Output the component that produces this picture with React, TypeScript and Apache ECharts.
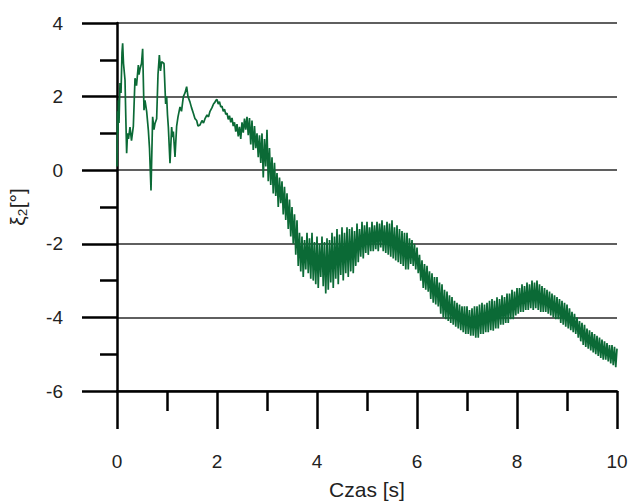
import React, { useEffect, useRef } from "react";
import * as echarts from "echarts";

// Time axis ticks (s) and angle ticks (deg)
const X_MIN = 0;
const X_MAX = 10;
const Y_MIN = -6;
const Y_MAX = 4;
const X_TICK = 2;
const Y_TICK = 2;

// 0 – 2 s: irregular start, read as [t, ξ2] pairs
const EARLY: [number, number][] = [
  [0, 0.1], [0.01, 1.6], [0.02, 1.0], [0.027, 1.9], [0.04, 1.28], [0.06, 2.37],
  [0.08, 2.1], [0.1, 3.2], [0.113, 3.45], [0.13, 2.9], [0.16, 2.45], [0.175, 1.5],
  [0.193, 0.46], [0.21, 1.0], [0.23, 0.85], [0.26, 1.17], [0.29, 0.8], [0.327, 1.2],
  [0.36, 2.5], [0.39, 2.3], [0.427, 2.86], [0.44, 2.6], [0.46, 2.75], [0.49, 2.9],
  [0.513, 3.3], [0.54, 1.63], [0.56, 1.9], [0.593, 1.6], [0.627, 1.09], [0.65, 0.6],
  [0.68, -0.55], [0.713, 1.45], [0.74, 1.1], [0.76, 1.27], [0.793, 1.4], [0.82, 2.6],
  [0.847, 3.13], [0.87, 2.7], [0.893, 2.95], [0.94, 2.9], [0.973, 1.8], [0.993, 2.0],
  [1.01, 1.5], [1.027, 1.17], [1.06, 0.19], [1.093, 1.17], [1.11, 0.9], [1.127, 1.05],
  [1.16, 0.36], [1.193, 1.2], [1.22, 1.45], [1.26, 1.72], [1.29, 1.6], [1.327, 2.0],
  [1.36, 2.1], [1.393, 2.27], [1.42, 2.0], [1.46, 1.85], [1.49, 1.7], [1.527, 1.55],
  [1.56, 1.4], [1.593, 1.35], [1.62, 1.2], [1.66, 1.23], [1.7, 1.35], [1.73, 1.28],
  [1.76, 1.4], [1.8, 1.5], [1.83, 1.45], [1.86, 1.6], [1.9, 1.7], [1.93, 1.8],
  [1.96, 1.85], [1.98, 1.9],
];

// 2 – 10 s: sampled every 0.025 s
const SAMPLE_START = 2;
const SAMPLE_STEP = 0.025;

const SEG_2_4 = [
  1.92, 1.80, 1.86, 1.72, 1.74, 1.60, 1.66, 1.52, 1.55, 1.38, 1.48, 1.30,
  1.42, 1.20, 1.30, 1.05, 1.25, 0.92, 1.18, 0.85, 1.30, 1.02, 1.40, 1.10,
  1.45, 0.95, 1.42, 0.70, 1.35, 0.55, 1.20, 0.60, 1.00, 0.35, 0.95, 0.20,
  1.00, -0.20, 0.85, 0.10, 1.10, -0.30, 0.60, -0.40, 0.35, -0.63, 0.20, -0.70,
  -0.08, -1.00, -0.20, -0.90, -0.30, -1.20, -0.45, -1.35, -0.63, -1.60, -0.80, -1.80,
  -1.00, -2.00, -1.20, -2.30, -1.36, -2.60, -1.70, -2.75, -1.80, -2.90, -1.90, -2.70,
  -1.70, -2.80, -1.85, -2.95, -1.70, -3.00, -1.95, -3.10,
];

const SEG_4_6 = [
  -1.80, -3.20, -2.00, -2.90, -1.80, -3.15, -1.95, -3.35, -1.85, -3.25, -1.90, -3.05,
  -1.70, -3.20, -1.80, -2.95, -1.60, -3.10, -1.75, -2.85, -1.55, -3.00, -1.70, -2.80,
  -1.55, -2.90, -1.60, -2.75, -1.55, -2.80, -1.65, -2.60, -1.45, -2.50, -1.60, -2.35,
  -1.40, -2.40, -1.50, -2.25, -1.40, -2.30, -1.55, -2.20, -1.40, -2.20, -1.50, -2.15,
  -1.40, -2.20, -1.45, -2.10, -1.36, -2.20, -1.50, -2.25, -1.40, -2.30, -1.45, -2.35,
  -1.36, -2.40, -1.55, -2.45, -1.50, -2.50, -1.60, -2.55, -1.65, -2.60, -1.70, -2.70,
  -1.70, -2.70, -1.85, -2.55, -1.90, -2.60, -2.00, -2.70,
];

const SEG_6_8 = [
  -2.10, -2.80, -2.30, -3.00, -2.45, -3.20, -2.55, -3.25, -2.60, -3.30, -2.75, -3.50,
  -2.80, -3.60, -2.90, -3.65, -2.90, -3.70, -3.05, -3.90, -3.10, -4.00, -3.25, -4.05,
  -3.30, -4.10, -3.40, -4.15, -3.45, -4.20, -3.55, -4.25, -3.60, -4.30, -3.65, -4.35,
  -3.70, -4.40, -3.70, -4.45, -3.70, -4.45, -3.80, -4.50, -3.75, -4.50, -3.70, -4.55,
  -3.70, -4.55, -3.65, -4.45, -3.60, -4.45, -3.65, -4.40, -3.60, -4.40, -3.55, -4.35,
  -3.50, -4.36, -3.55, -4.30, -3.45, -4.30, -3.50, -4.20, -3.40, -4.20, -3.45, -4.15,
  -3.35, -4.15, -3.35, -4.05, -3.25, -4.05, -3.30, -3.95,
];

const SEG_8_10 = [
  -3.20, -3.90, -3.20, -3.85, -3.10, -3.85, -3.15, -3.80, -3.05, -3.80, -3.10, -3.75,
  -3.00, -3.80, -3.05, -3.75, -3.00, -3.80, -3.10, -3.85, -3.15, -3.85, -3.20, -3.85,
  -3.25, -3.90, -3.30, -3.95, -3.35, -4.00, -3.40, -4.05, -3.45, -4.05, -3.50, -4.15,
  -3.55, -4.20, -3.60, -4.25, -3.65, -4.30, -3.75, -4.35, -3.85, -4.40, -3.90, -4.45,
  -4.00, -4.55, -4.10, -4.65, -4.15, -4.75, -4.20, -4.80, -4.30, -4.85, -4.35, -4.90,
  -4.40, -4.95, -4.45, -5.00, -4.50, -5.05, -4.55, -5.10, -4.60, -5.15, -4.65, -5.15,
  -4.70, -5.20, -4.75, -5.25, -4.75, -5.30, -4.80, -5.35, -4.85,
];

const X_NAME = "Czas [s]";
const Y_NAME = "ξ₂[°]";

const FONT = "'Liberation Sans', Arial, 'DejaVu Sans', sans-serif";
const LINE_COLOR = "#0b6a36";

export default function App() {
  const ref = useRef<HTMLDivElement>(null);

  useEffect(() => {
    if (!ref.current) return;
    const chart = echarts.init(ref.current, null, { renderer: "svg" });

    const sampled = [...SEG_2_4, ...SEG_4_6, ...SEG_6_8, ...SEG_8_10].map(
      (v, i) => [SAMPLE_START + i * SAMPLE_STEP, v] as [number, number]
    );
    const data = [...EARLY, ...sampled];

    chart.setOption({
      animation: false,
      backgroundColor: "#ffffff",
      grid: {
        left: 117,
        right: 15,
        top: 23,
        bottom: 113,
        containLabel: false,
        outerBoundsMode: "none",
      },
      xAxis: {
        type: "value",
        min: X_MIN,
        max: X_MAX,
        interval: X_TICK,
        name: X_NAME,
        nameLocation: "middle",
        nameGap: 88,
        nameTextStyle: { fontSize: 21, color: "#222", fontFamily: FONT },
        axisLine: { show: true, onZero: false, lineStyle: { color: "#000", width: 2.5 } },
        axisTick: { show: true, length: 38, lineStyle: { color: "#000", width: 2.5 } },
        minorTick: { show: true, splitNumber: 2, length: 20, lineStyle: { color: "#000", width: 2.5 } },
        axisLabel: { margin: 61, fontSize: 19, color: "#222", fontFamily: FONT },
        splitLine: { show: false },
      },
      yAxis: {
        type: "value",
        min: Y_MIN,
        max: Y_MAX,
        interval: Y_TICK,
        name: Y_NAME,
        nameLocation: "middle",
        nameGap: 89,
        nameRotate: 90,
        nameTextStyle: { fontSize: 21, color: "#222", fontFamily: FONT },
        axisLine: { show: true, onZero: false, lineStyle: { color: "#000", width: 2.5 } },
        axisTick: { show: true, length: 35, lineStyle: { color: "#000", width: 2.5 } },
        minorTick: { show: true, splitNumber: 2, length: 17, lineStyle: { color: "#000", width: 2.5 } },
        axisLabel: { margin: 54, fontSize: 19, color: "#222", fontFamily: FONT },
        splitLine: { show: true, lineStyle: { color: "#2a2a2a", width: 1.6 } },
      },
      series: [
        {
          type: "line",
          data,
          showSymbol: false,
          symbol: "none",
          lineStyle: { color: LINE_COLOR, width: 1.7 },
          z: 3,
        },
      ],
    });

    return () => chart.dispose();
  }, []);

  return (
    <div
      ref={ref}
      style={{ position: "fixed", left: 0, top: 0, width: 632, height: 504 }}
    />
  );
}
